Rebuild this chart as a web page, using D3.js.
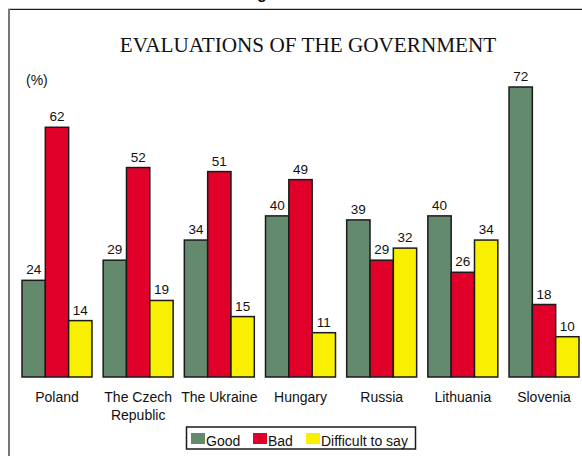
<!DOCTYPE html>
<html>
<head>
<meta charset="utf-8">
<script src="https://cdn.jsdelivr.net/npm/d3@7"></script>
<style>
  html, body { margin: 0; padding: 0; background: #fff; }
  svg { display: block; }
  text { font-family: "Liberation Sans", Arial, sans-serif; fill: #111; }
</style>
</head>
<body>
<div id="chart"></div>
<script>
// Survey results: share of respondents (%) rating their government
const countries = ["Poland", "The Czech Republic", "The Ukraine", "Hungary", "Russia", "Lithuania", "Slovenia"];
const countryLines = [["Poland"], ["The Czech", "Republic"], ["The Ukraine"], ["Hungary"], ["Russia"], ["Lithuania"], ["Slovenia"]];
const seriesNames = ["Good", "Bad", "Difficult to say"];
const good = [24, 29, 34, 40, 39, 40, 72];
const bad = [62, 52, 51, 49, 29, 26, 18];
const difficult = [14, 19, 15, 11, 32, 34, 10];
const seriesColors = ["#648a6e", "#e1002a", "#f8f000"];

const W = 582, H = 456;
const svg = d3.select("#chart").append("svg").attr("width", W).attr("height", H);

// page frame
svg.append("line").attr("x1", 8).attr("x2", W).attr("y1", 8.5).attr("y2", 8.5)
  .attr("stroke", "#ccc").attr("stroke-width", 1);
svg.append("line").attr("x1", 8).attr("x2", W).attr("y1", 9.5).attr("y2", 9.5)
  .attr("stroke", "#1a1a1a").attr("stroke-width", 1.2);
svg.append("line").attr("x1", 9).attr("x2", 9).attr("y1", 9).attr("y2", H)
  .attr("stroke", "#777").attr("stroke-width", 2);

// heading of the page above the frame
svg.append("text").attr("x", 262).attr("y", -1.5).attr("text-anchor", "middle")
  .style("font-size", "16px").style("font-weight", "bold").text("g");

// title
svg.append("text").attr("x", 308).attr("y", 52).attr("text-anchor", "middle")
  .style("font-family", "'Liberation Serif', 'Times New Roman', serif")
  .style("font-size", "21.2px").text("EVALUATIONS OF THE GOVERNMENT");

svg.append("text").attr("x", 26).attr("y", 85).style("font-size", "14px").text("(%)");

const x0 = d3.scaleBand().domain(countries).range([22, 579]).paddingInner(0.138).paddingOuter(0);
const x1 = d3.scaleBand().domain(seriesNames).range([0, x0.bandwidth()]);
const y = d3.scaleLinear().domain([0, 72]).range([377, 87]);

const series = [good, bad, difficult];
const rows = countries.map((c, i) => ({
  country: c,
  values: seriesNames.map((s, k) => ({ key: s, value: series[k][i], color: seriesColors[k] }))
}));

const groups = svg.append("g").selectAll("g").data(rows).join("g")
  .attr("transform", d => `translate(${x0(d.country)},0)`);

groups.selectAll("rect").data(d => d.values).join("rect")
  .attr("x", d => x1(d.key))
  .attr("width", x1.bandwidth())
  .attr("y", d => y(d.value))
  .attr("height", d => y(0) - y(d.value))
  .attr("fill", d => d.color)
  .attr("stroke", "#1a1a1a")
  .attr("stroke-width", 1.5);

groups.selectAll("text.val").data(d => d.values).join("text")
  .attr("class", "val")
  .attr("x", d => x1(d.key) + x1.bandwidth() / 2)
  .attr("y", d => y(d.value) - 6)
  .attr("text-anchor", "middle")
  .style("font-size", "13.5px")
  .text(d => d.value);

// category labels
const labels = svg.append("g").selectAll("text").data(countries).join("text")
  .attr("x", d => x0(d) + x0.bandwidth() / 2)
  .attr("y", 402)
  .attr("text-anchor", "middle")
  .style("font-size", "14px");
labels.each(function (d, i) {
  d3.select(this).selectAll("tspan").data(countryLines[i]).join("tspan")
    .attr("x", x0(d) + x0.bandwidth() / 2)
    .attr("dy", (t, j) => j === 0 ? 0 : 17.5)
    .text(t => t);
});

// legend
const legend = svg.append("g");
legend.append("rect").attr("x", 186.5).attr("y", 427).attr("width", 229).attr("height", 22)
  .attr("fill", "#fff").attr("stroke", "#1a1a1a").attr("stroke-width", 1.5);
const legendX = [191, 253, 306];
seriesNames.forEach((s, k) => {
  legend.append("rect").attr("x", legendX[k]).attr("y", 433).attr("width", 14).attr("height", 11)
    .attr("fill", seriesColors[k]);
  legend.append("text").attr("x", legendX[k] + 15).attr("y", 446)
    .style("font-size", "14px").text(s);
});
</script>
</body>
</html>
